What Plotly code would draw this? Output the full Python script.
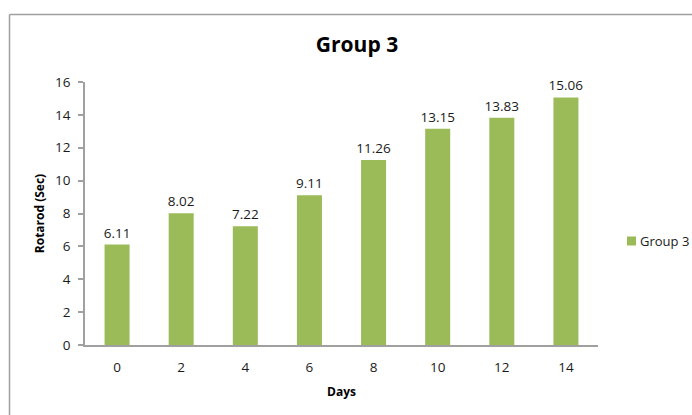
import plotly.graph_objects as go

# Rotarod performance for Group 3 over the study days
days = ["0", "2", "4", "6", "8", "10", "12", "14"]
rotarod_sec = [6.11, 8.02, 7.22, 9.11, 11.26, 13.15, 13.83, 15.06]
y_ticks = [0, 2, 4, 6, 8, 10, 12, 14, 16]
series_name = "Group 3"

W, H = 692, 415
L, R, T, B = 85, 94, 82, 70
plot_w = W - L - R
plot_h = H - T - B

def px_to_paper_x(px):
    return (px - L) / plot_w

def px_to_paper_y(py):
    return (H - B - py) / plot_h

FONT = "Open Sans"
GREEN = "#9BBB59"
GRAY = "#A0A0A0"
TEXT = "#1a1a1a"

fig = go.Figure()
fig.add_trace(go.Bar(
    x=days,
    y=rotarod_sec,
    name=series_name,
    marker=dict(color=GREEN, line=dict(width=0)),
    text=[f"{v:.2f}" for v in rotarod_sec],
    textposition="outside",
    constraintext="none",
    textfont=dict(family=FONT, size=13.5, color=TEXT),
    cliponaxis=False,
    showlegend=False,
))

# Legend entry: colour swatch plus series name beside the plot
legend_y = px_to_paper_y(241)
shapes = [
    dict(type="rect", xref="paper", yref="paper",
         x0=px_to_paper_x(627), x1=px_to_paper_x(636),
         y0=legend_y - 4.5 / plot_h, y1=legend_y + 4.5 / plot_h,
         fillcolor=GREEN, line=dict(width=0)),
    # outer chart frame (top and left edges)
    dict(type="line", xref="paper", yref="paper",
         x0=px_to_paper_x(9.5), x1=px_to_paper_x(W + 2),
         y0=px_to_paper_y(14.5), y1=px_to_paper_y(14.5),
         line=dict(color=GRAY, width=1.5)),
    dict(type="line", xref="paper", yref="paper",
         x0=px_to_paper_x(9.5), x1=px_to_paper_x(9.5),
         y0=px_to_paper_y(14.5), y1=px_to_paper_y(H + 2),
         line=dict(color=GRAY, width=1.5)),
]
annotations = [
    dict(text=series_name, xref="paper", yref="paper",
         x=px_to_paper_x(638), y=legend_y, xanchor="left", yanchor="middle",
         showarrow=False, font=dict(family=FONT, size=13, color=TEXT)),
]

fig.update_layout(
    width=W, height=H,
    margin=dict(l=L, r=R, t=T, b=B, autoexpand=False),
    paper_bgcolor="white",
    plot_bgcolor="white",
    bargap=0.61,
    showlegend=False,
    title=dict(
        text="<b>Group 3</b>",
        x=px_to_paper_x(357), xref="paper", xanchor="center",
        y=1 - 45 / H, yref="container", yanchor="middle",
        font=dict(family=FONT, size=21, color="black"),
    ),
    font=dict(family=FONT, size=13, color=TEXT),
    xaxis=dict(
        showline=True, linecolor=GRAY, linewidth=1.5,
        showgrid=False, ticks="", zeroline=False,
        ticklabelstandoff=9,
        title=dict(text="<b>Days</b>", font=dict(family=FONT, size=12, color="black"), standoff=13),
        tickfont=dict(family=FONT, size=13.5, color=TEXT),
    ),
    yaxis=dict(
        range=[0, 16], tickvals=y_ticks,
        showline=True, linecolor=GRAY, linewidth=1.5,
        showgrid=False, zeroline=False,
        ticks="outside", ticklen=5, tickcolor=GRAY, tickwidth=1.5,
        ticklabelstandoff=5,
        title=dict(text="<b>Rotarod (Sec)</b>", font=dict(family=FONT, size=12, color="black"), standoff=8),
        tickfont=dict(family=FONT, size=13.5, color=TEXT),
    ),
    shapes=shapes,
    annotations=annotations,
)

fig.write_html("out.html")
